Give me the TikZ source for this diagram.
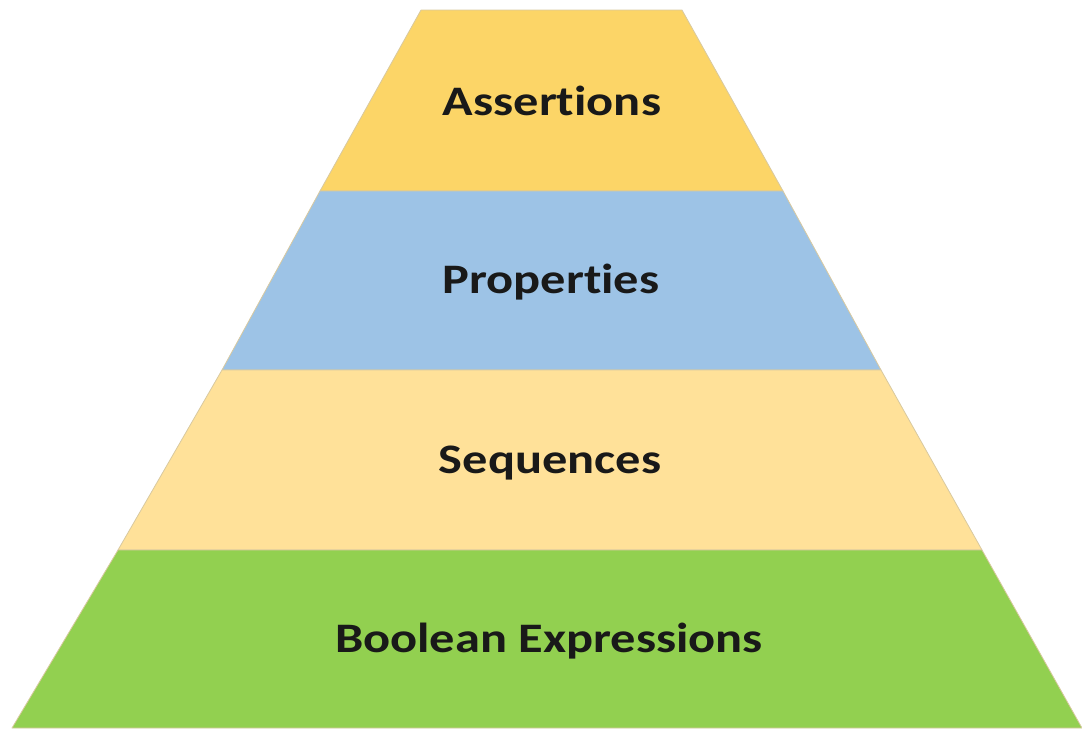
\documentclass[tikz,border=0pt]{standalone}
\usepackage{fontspec}
\setmainfont[FakeStretch=1.2, Ligatures=NoCommon]{Carlito}
\definecolor{cAssert}{HTML}{FCD567}
\definecolor{cProp}{HTML}{9DC3E6}
\definecolor{cSeq}{HTML}{FFE199}
\definecolor{cBool}{HTML}{92D050}
\definecolor{cEdge}{HTML}{D8C9A0}
\begin{document}
\begin{tikzpicture}[x=1pt,y=-1pt,
  layer/.style={draw=cEdge, line width=0.8pt, line join=round},
  lbl/.style={font=\fontsize{42}{48}\selectfont\bfseries, text=black!90, inner sep=0pt}]
\useasboundingbox (0,0) rectangle (1082,729);
% left edge: (421,10)->(12,728); right edge: (682,10)->(1082,728)
\coordinate (tl) at (421,10);   \coordinate (tr) at (682,10);
\coordinate (l1) at (320,191);  \coordinate (r1) at (783,191);
\coordinate (l2) at (222,370);  \coordinate (r2) at (881,370);
\coordinate (l3) at (118,550);  \coordinate (r3) at (982,550);
\coordinate (l4) at (12,728);   \coordinate (r4) at (1082,728);
\filldraw[layer, fill=cAssert] (tl) -- (tr) -- (r1) -- (l1) -- cycle;
\filldraw[layer, fill=cProp]   (l1) -- (r1) -- (r2) -- (l2) -- cycle;
\filldraw[layer, fill=cSeq]    (l2) -- (r2) -- (r3) -- (l3) -- cycle;
\filldraw[layer, fill=cBool]   (l3) -- (r3) -- (r4) -- (l4) -- cycle;
\node[lbl] (assert) at (552,101) {Assertions};
\node[lbl] (prop)   at (551,282) {Properties};
\node[lbl] (seq)    at (550,463) {Sequences};
\node[lbl] (bool)   at (549,641) {Boolean Expressions};
\end{tikzpicture}
\end{document}
